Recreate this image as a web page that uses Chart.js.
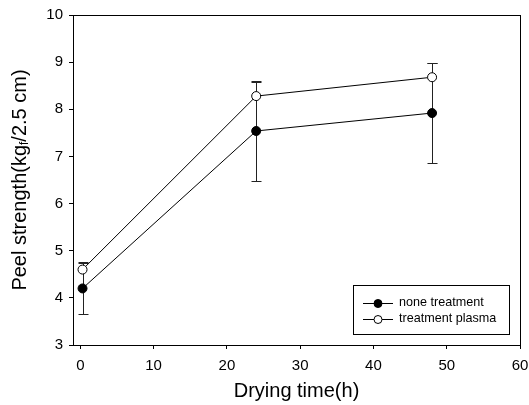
<!DOCTYPE html>
<html>
<head>
<meta charset="utf-8">
<script src="https://cdn.jsdelivr.net/npm/chart.js@4"></script>
<style>
  html, body { margin: 0; padding: 0; background: #fff; }
  #wrap { width: 529px; height: 405px; }
</style>
</head>
<body>
<div id="wrap"><canvas id="myChart"></canvas></div>
<script>
Chart.defaults.font.family = "'Liberation Sans', Arial, sans-serif";
Chart.defaults.color = "#000";

// drying time (h) and mean peel strength (kgf/2.5 cm) with error bars
const dryingTime = [0.3, 24, 48];
const noneTreatment = [4.2, 7.54, 7.92];
const noneTreatmentErr = [0.55, 1.06, 1.06];
const plasmaTreatment = [4.6, 8.28, 8.68];
const plasmaTreatmentErr = [0.16, 0.3, 0.3];
const xTicks = [0, 10, 20, 30, 40, 50, 60];
const seriesNames = ["none treatment", "treatment plasma"];

function points(xs, ys, errs) {
  return xs.map((x, i) => ({ x: x, y: ys[i], err: errs[i] }));
}

// error bars drawn under the markers; plasma series only shows the upper half
const errorBars = {
  id: "errorBars",
  beforeDatasetsDraw(chart) {
    const ctx = chart.ctx;
    const xs = chart.scales.x, ys = chart.scales.y;
    ctx.save();
    ctx.strokeStyle = "#222";
    ctx.lineWidth = 1;
    chart.data.datasets.forEach((ds) => {
      ds.data.forEach((p) => {
        const px = Math.round(xs.getPixelForValue(p.x)) + 0.5;
        const top = Math.round(ys.getPixelForValue(p.y + p.err)) + 0.5;
        const bot = ds.upperOnly
          ? ys.getPixelForValue(p.y)
          : Math.round(ys.getPixelForValue(p.y - p.err)) + 0.5;
        ctx.beginPath();
        ctx.moveTo(px, top); ctx.lineTo(px, bot);
        ctx.moveTo(px - 5, top); ctx.lineTo(px + 5, top);
        if (!ds.upperOnly) {
          ctx.moveTo(px - 5, bot); ctx.lineTo(px + 5, bot);
        }
        ctx.stroke();
      });
    });
    ctx.restore();
  }
};

// box around the plot, axis titles and the legend
const decorations = {
  id: "decorations",
  afterDraw(chart) {
    const ctx = chart.ctx;
    const a = chart.chartArea;
    ctx.save();
    ctx.strokeStyle = "#000";
    ctx.lineWidth = 1;
    ctx.strokeRect(Math.round(a.left) + 0.5, Math.round(a.top) + 0.5,
      Math.round(a.right - a.left), Math.round(a.bottom - a.top));

    ctx.fillStyle = "#000";
    ctx.font = "20px 'Liberation Sans', Arial, sans-serif";
    ctx.textAlign = "center";
    ctx.textBaseline = "middle";
    ctx.fillText("Drying time(h)", (a.left + a.right) / 2, 391);

    // y title with subscript f
    ctx.translate(20, (a.top + a.bottom) / 2);
    ctx.rotate(-Math.PI / 2);
    const big = "20px 'Liberation Sans', Arial, sans-serif";
    const small = "12px 'Liberation Sans', Arial, sans-serif";
    const parts = [["Peel strength(kg", big, 0], ["f", small, 5], ["/2.5 cm)", big, 0]];
    let total = 0;
    parts.forEach((p) => { ctx.font = p[1]; total += ctx.measureText(p[0]).width; });
    let x = -total / 2;
    ctx.textAlign = "left";
    parts.forEach((p) => {
      ctx.font = p[1];
      ctx.fillText(p[0], x, p[2]);
      x += ctx.measureText(p[0]).width;
    });
    ctx.setTransform(1, 0, 0, 1, 0, 0);

    // legend
    ctx.strokeRect(353.5, 285.5, 156, 49);
    ctx.font = "12.6px 'Liberation Sans', Arial, sans-serif";
    ctx.textBaseline = "middle";
    chart.data.datasets.forEach((ds, i) => {
      const y = 303 + i * 16;
      ctx.beginPath();
      ctx.moveTo(363, y + 0.5); ctx.lineTo(393, y + 0.5);
      ctx.stroke();
      ctx.beginPath();
      ctx.arc(378, y + 0.5, 4, 0, Math.PI * 2);
      ctx.fillStyle = ds.pointBackgroundColor;
      ctx.fill();
      ctx.stroke();
      ctx.fillStyle = "#000";
      ctx.fillText(ds.label, 399, y);
    });
    ctx.restore();
  }
};

new Chart(document.getElementById("myChart"), {
  type: "line",
  data: {
    datasets: [
      {
        label: seriesNames[0],
        data: points(dryingTime, noneTreatment, noneTreatmentErr),
        borderColor: "#000",
        borderWidth: 1,
        pointRadius: 4.5,
        pointBackgroundColor: "#000",
        pointBorderColor: "#000",
        pointBorderWidth: 1
      },
      {
        label: seriesNames[1],
        data: points(dryingTime, plasmaTreatment, plasmaTreatmentErr),
        upperOnly: true,
        borderColor: "#000",
        borderWidth: 1,
        pointRadius: 4.5,
        pointBackgroundColor: "#fff",
        pointBorderColor: "#000",
        pointBorderWidth: 1
      }
    ]
  },
  options: {
    responsive: true,
    maintainAspectRatio: false,
    animation: false,
    layout: { padding: { top: 15, right: 9, left: 0, bottom: 0 } },
    plugins: { legend: { display: false }, tooltip: { enabled: false } },
    scales: {
      x: {
        type: "linear",
        min: -1,
        max: 60,
        afterBuildTicks(scale) {
          scale.ticks = xTicks.map((v) => ({ value: v }));
        },
        afterFit(scale) {
          scale.height = 60;
          scale.paddingLeft = 0;
          scale.paddingRight = 0;
        },
        grid: { drawOnChartArea: false, tickLength: 4, color: "#000" },
        border: { color: "#000" },
        ticks: { font: { size: 15 }, padding: 8, maxRotation: 0 }
      },
      y: {
        min: 3,
        max: 10,
        afterFit(scale) {
          scale.width = 73;
          scale.paddingTop = 0;
          scale.paddingBottom = 0;
        },
        grid: { drawOnChartArea: false, tickLength: 4, color: "#000" },
        border: { color: "#000" },
        ticks: { stepSize: 1, font: { size: 15 }, padding: 6 }
      }
    }
  },
  plugins: [errorBars, decorations]
});
</script>
</body>
</html>
